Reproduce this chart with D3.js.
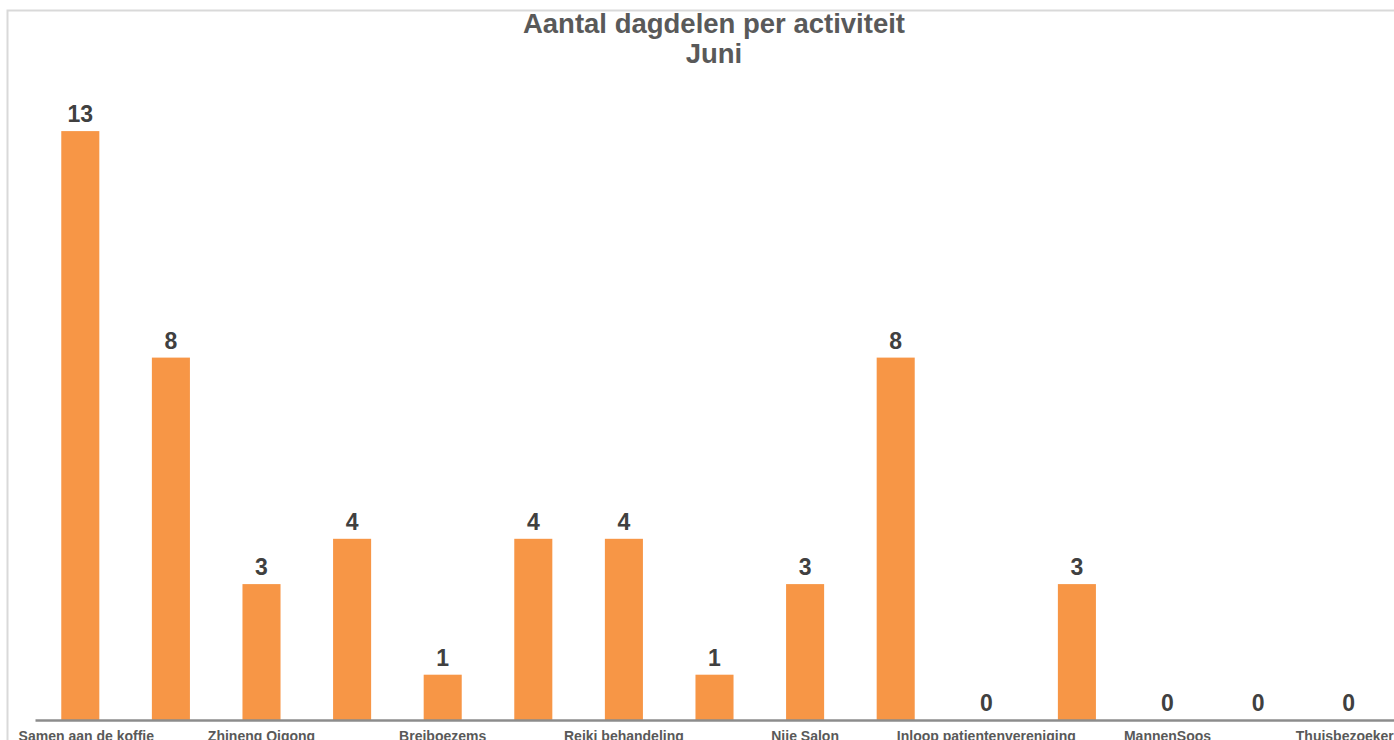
<!DOCTYPE html>
<html><head><meta charset="utf-8">
<script src="https://cdn.jsdelivr.net/npm/d3@7"></script>
<style>html,body{margin:0;padding:0;background:#fff;overflow:hidden}</style>
</head><body>
<svg id="chart" width="1394" height="740"></svg>
<script>
const categories = ["Samen aan de koffie","Reiki","Zhineng Qigong","Yoga","Breiboezems","Mindfulness","Reiki behandeling","Massage","Nije Salon","Inloop","Inloop patientenvereniging","Lotgenotencontact","MannenSoos","Wandelen","Thuisbezoekers"];
const values = [13,8,3,4,1,4,4,1,3,8,0,3,0,0,0];
const shownLabels = [0,2,4,6,8,10,12,14];
const titleLines = ["Aantal dagdelen per activiteit","Juni"];

const svg = d3.select("#chart");
const left = 35, right = 1394, base = 720;

// frame
svg.append("rect").attr("x",7.5).attr("y",10.5).attr("width",1400).attr("height",760)
  .attr("fill","#fff").attr("stroke","#d9d9d9").attr("stroke-width",2);

const x = d3.scaleBand().domain(d3.range(categories.length)).range([left,right]).paddingInner(0.58).paddingOuter(0.29);
const y = d3.scaleLinear().domain([0,14]).range([base, base-14*45.3]);

svg.selectAll("rect.bar").data(values).join("rect").attr("class","bar")
  .attr("x",(d,i)=>x(i)).attr("width",x.bandwidth())
  .attr("y",d=>y(d)).attr("height",d=>base-y(d)).attr("fill","#f79646");

svg.selectAll("text.val").data(values).join("text").attr("class","val")
  .attr("x",(d,i)=>x(i)+x.bandwidth()/2).attr("y",d=>y(d)-9)
  .attr("text-anchor","middle").attr("font-family","Liberation Sans, Arial, sans-serif")
  .attr("font-weight","bold").attr("font-size",23).attr("fill","#404040").text(d=>d);

// axis
const axis = d3.axisBottom(x).tickSize(0).tickFormat((d)=> shownLabels.includes(d)?categories[d]:"");
const g = svg.append("g").attr("transform",`translate(0,${base})`).call(axis);
g.select(".domain").attr("stroke","#8c8c8c").attr("stroke-width",2.5);
g.selectAll("text").attr("font-family","Liberation Sans, Arial, sans-serif").attr("font-weight","bold")
  .attr("font-size",14).attr("fill","#595959").attr("dy",0).attr("y",21);
g.selectAll(".tick").filter(d=>d===0).select("text").attr("dx",6);

const t = svg.append("text").attr("x",714).attr("text-anchor","middle")
  .attr("font-family","Liberation Sans, Arial, sans-serif").attr("font-weight","bold")
  .attr("font-size",27.5).attr("fill","#595959");
titleLines.forEach((l,i)=>t.append("tspan").attr("x",714).attr("y",33+i*30).text(l));
</script>
</body></html>
